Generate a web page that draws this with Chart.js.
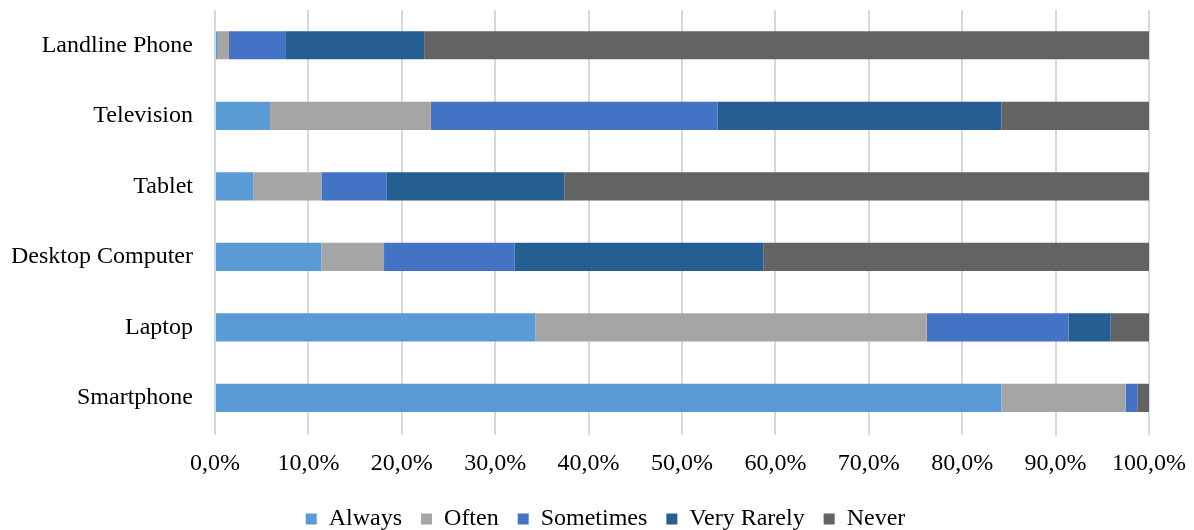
<!DOCTYPE html>
<html>
<head>
<meta charset="utf-8">
<script src="https://cdn.jsdelivr.net/npm/chart.js@4/dist/chart.umd.min.js"></script>
<style>
  html, body { margin: 0; padding: 0; background: #fff; }
  #wrap { width: 1194px; height: 530px; position: relative; }
</style>
</head>
<body>
<div id="wrap"><canvas id="c" width="1194" height="530"></canvas></div>
<script>
const categories = ["Landline Phone", "Television", "Tablet", "Desktop Computer", "Laptop", "Smartphone"];
const seriesNames = ["Always", "Often", "Sometimes", "Very Rarely", "Never"];
const always     = [0.3, 5.9, 4.1, 11.4, 34.3, 84.2];
const often      = [1.2, 17.2, 7.3, 6.7, 41.9, 13.3];
const sometimes  = [6.1, 30.7, 7.0, 14.0, 15.2, 1.3];
const veryRarely = [14.8, 30.4, 19.0, 26.6, 4.5, 0.0];
const never      = [77.6, 15.8, 62.6, 41.3, 4.1, 1.2];
const xTickLabels = ["0,0%", "10,0%", "20,0%", "30,0%", "40,0%", "50,0%", "60,0%", "70,0%", "80,0%", "90,0%", "100,0%"];

const colors = ["#5B9BD5", "#A5A5A5", "#4472C4", "#255E91", "#636363"];
const values = [always, often, sometimes, veryRarely, never];

const FONT = "'Liberation Serif', 'Times New Roman', serif";

// shift the legend block so it is centred like the original
const legendShift = {
  id: 'legendShift',
  afterLayout(chart) {
    if (chart.legend) { chart.legend.left += 25; chart.legend.right += 25; }
  }
};

new Chart(document.getElementById('c'), {
  type: 'bar',
  data: {
    labels: categories,
    datasets: seriesNames.map((n, i) => ({
      label: n,
      data: values[i],
      backgroundColor: colors[i],
      borderWidth: 0,
      barPercentage: 0.4,
      categoryPercentage: 1.0
    }))
  },
  plugins: [legendShift],
  options: {
    indexAxis: 'y',
    responsive: false,
    animation: false,
    layout: { padding: { left: 12, right: 45, top: 10, bottom: -11 } },
    plugins: {
      legend: {
        position: 'bottom',
        labels: {
          font: { family: FONT, size: 24 },
          color: '#000',
          boxWidth: 11,
          boxHeight: 11,
          padding: 19
        }
      },
      tooltip: { enabled: false }
    },
    scales: {
      x: {
        stacked: true,
        min: 0,
        max: 100,
        afterFit: (s) => { s.paddingLeft = 0; s.paddingRight = 0; s.height -= 4; },
        ticks: {
          stepSize: 10,
          font: { family: FONT, size: 24 },
          color: '#000',
          padding: 14,
          maxRotation: 0,
          callback: (v, i) => xTickLabels[i]
        },
        grid: { color: '#D9D9D9', lineWidth: 2, drawTicks: true, tickLength: 2 },
        border: { display: false }
      },
      y: {
        stacked: true,
        afterFit: (s) => { s.paddingTop = 0; s.paddingBottom = 0; s.width -= 23; },
        ticks: {
          font: { family: FONT, size: 24 },
          color: '#000',
          padding: 22
        },
        grid: { display: false, drawTicks: false },
        border: { display: false }
      }
    }
  }
});
</script>
</body>
</html>
